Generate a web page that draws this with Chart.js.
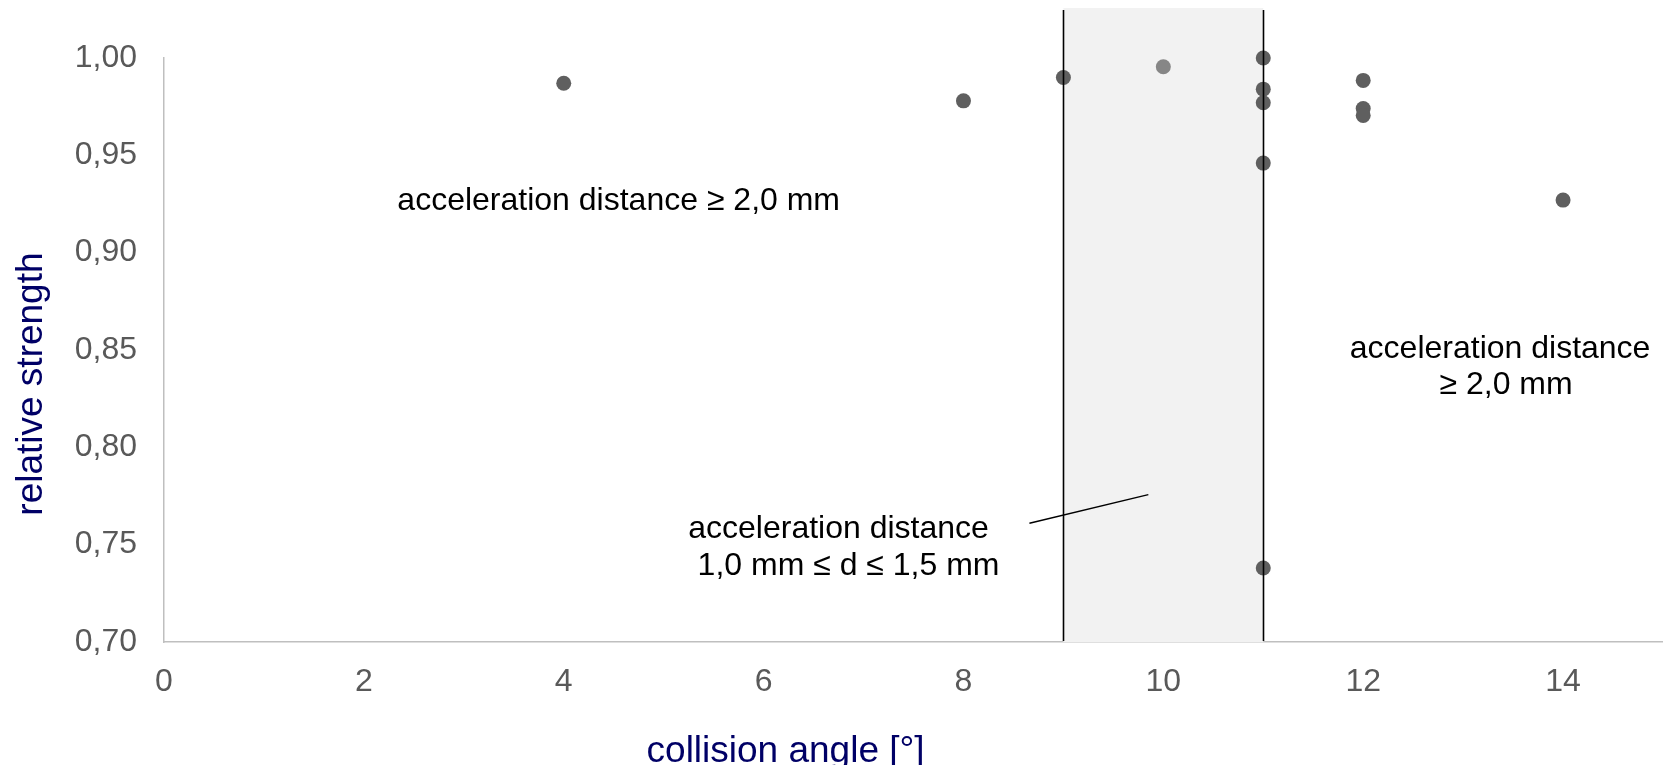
<!DOCTYPE html>
<html>
<head>
<meta charset="utf-8">
<script src="https://cdn.jsdelivr.net/npm/chart.js@4.4.1/dist/chart.umd.min.js"></script>
<style>
  html, body { margin: 0; padding: 0; background: #fff; }
  #wrap { width: 1663px; height: 765px; position: relative; }
</style>
</head>
<body>
<div id="wrap"><canvas id="chart"></canvas></div>
<script>
// ── Data ──────────────────────────────────────────────────────────────────────
const angles    = [4, 8, 9, 10, 11, 11, 11, 11, 11, 12, 12, 12, 14];
const strengths = [0.987, 0.978, 0.990, 0.9955, 1.000, 0.984, 0.977, 0.946, 0.738, 0.9885, 0.974, 0.9705, 0.927];

const xTicks = [0, 2, 4, 6, 8, 10, 12, 14];
const yTicks = [0.70, 0.75, 0.80, 0.85, 0.90, 0.95, 1.00];

// shaded window for 1,0 mm ≤ d ≤ 1,5 mm
const bandAngles = [9, 11];
const bandTop    = 1.0257;
const lineTop    = 1.0247;

// leader line from the lower label into the band
const leaderX = [8.66, 9.85];
const leaderY = [0.761, 0.7757];

// annotation texts (lines) and their anchor values
const noteLines = [
  ["acceleration distance ≥ 2,0 mm"],
  ["acceleration distance", "≥ 2,0 mm"],
  ["acceleration distance", "1,0 mm ≤ d ≤ 1,5 mm"],
];
const noteX = [[4.55], [13.37, 13.43], [6.75, 6.85]];
const noteY = [[0.9262], [0.8502, 0.8318], [0.7582, 0.7392]];

const xTitle = "collision angle [°]";
const yTitle = "relative strength";

// ── Styles ────────────────────────────────────────────────────────────────────
const FONT       = '"Liberation Sans", Arial, sans-serif';
const TICK_COLOR = "#595959";
const AXIS_COLOR = "#bfbfbf";
const TITLE_CLR  = "#000066";
const DOT_COLOR  = "#5f5f5f";
const DOT_LIGHT  = "#868686";

const fmt = v => v.toFixed(2).replace(".", ",");

// ── Annotation plugin ────────────────────────────────────────────────────────
const annotations = {
  id: "annotations",
  beforeDatasetsDraw(chart) {
    const { ctx, scales: { x, y } } = chart;
    const x0 = x.getPixelForValue(bandAngles[0]);
    const x1 = x.getPixelForValue(bandAngles[1]);
    const yt = y.getPixelForValue(bandTop);
    const yb = y.getPixelForValue(0.7);
    ctx.save();
    ctx.fillStyle = "#f2f2f2";
    ctx.fillRect(x0, yt, x1 - x0, yb - yt);
    ctx.restore();
  },
  afterDatasetsDraw(chart) {
    const { ctx, scales: { x, y }, chartArea } = chart;
    ctx.save();
    // band edges
    ctx.strokeStyle = "#000";
    ctx.lineWidth = 1.6;
    bandAngles.forEach(a => {
      const px = Math.round(x.getPixelForValue(a)) + 0.5;
      ctx.beginPath();
      ctx.moveTo(px, y.getPixelForValue(lineTop));
      ctx.lineTo(px, y.getPixelForValue(0.7) - 1);
      ctx.stroke();
    });
    // leader
    ctx.lineWidth = 1.5;
    ctx.beginPath();
    ctx.moveTo(x.getPixelForValue(leaderX[0]), y.getPixelForValue(leaderY[0]));
    ctx.lineTo(x.getPixelForValue(leaderX[1]), y.getPixelForValue(leaderY[1]));
    ctx.stroke();

    // notes
    ctx.fillStyle = "#000";
    ctx.font = `32px ${FONT}`;
    ctx.textAlign = "center";
    ctx.textBaseline = "middle";
    noteLines.forEach((lines, i) => {
      lines.forEach((t, j) => {
        ctx.fillText(t, x.getPixelForValue(noteX[i][j]), y.getPixelForValue(noteY[i][j]));
      });
    });

    // axis titles
    ctx.fillStyle = TITLE_CLR;
    ctx.font = `37px ${FONT}`;
    ctx.fillText(xTitle, x.getPixelForValue(6.22), chartArea.bottom + 110);
    ctx.translate(32, y.getPixelForValue(0.8325));
    ctx.rotate(-Math.PI / 2);
    ctx.fillText(yTitle, 0, 0);
    ctx.restore();
  },
};

// ── Chart ─────────────────────────────────────────────────────────────────────
new Chart(document.getElementById("chart"), {
  type: "scatter",
  data: {
    datasets: [{
      data: angles.map((a, i) => ({ x: a, y: strengths[i] })),
      clip: false,
      pointRadius: 7.5,
      pointHoverRadius: 7.5,
      pointBorderWidth: 0,
      pointBackgroundColor: ctx => (ctx.raw && ctx.raw.x === 10 ? DOT_LIGHT : DOT_COLOR),
    }],
  },
  options: {
    responsive: true,
    maintainAspectRatio: false,
    animation: false,
    layout: { autoPadding: false, padding: { top: 58, left: 0, right: 0, bottom: 0 } },
    plugins: { legend: { display: false }, tooltip: { enabled: false } },
    scales: {
      x: {
        type: "linear",
        min: 0,
        max: 15,
        grid: { display: false, drawTicks: false },
        border: { display: true, color: AXIS_COLOR, width: 1.5 },
        ticks: { stepSize: 2, padding: 21, color: TICK_COLOR, font: { family: FONT, size: 32 } },
        afterBuildTicks: s => { s.ticks = xTicks.map(v => ({ value: v })); },
        afterFit: s => { s.height = 123; s.paddingLeft = 0; s.paddingRight = 0; },
      },
      y: {
        type: "linear",
        min: 0.7,
        max: 1.0,
        grid: { display: false, drawTicks: false },
        border: { display: true, color: AXIS_COLOR, width: 1.5 },
        ticks: { padding: 27, color: TICK_COLOR, font: { family: FONT, size: 32 }, callback: v => fmt(v) },
        afterBuildTicks: s => { s.ticks = yTicks.map(v => ({ value: v })); },
        afterFit: s => { s.width = 164; },
      },
    },
  },
  plugins: [annotations],
});
</script>
</body>
</html>
